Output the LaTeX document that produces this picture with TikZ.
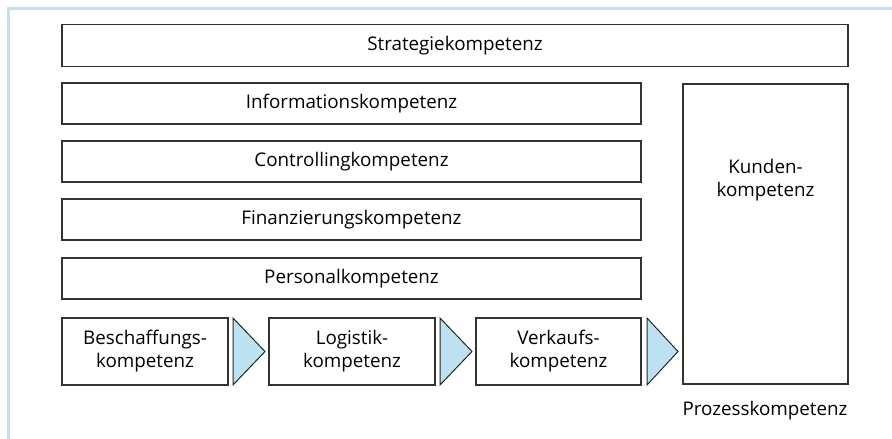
\documentclass[tikz,border=0pt]{standalone}
\usepackage{fontspec}
\setmainfont{Open Sans}
\definecolor{frameblue}{RGB}{190,226,242}
\definecolor{arrowblue}{RGB}{190,225,241}
\begin{document}
\begin{tikzpicture}[x=1pt,y=-1pt,
  kfont/.style={font=\fontsize{18.8}{23}\selectfont},
  kbox/.style={draw=black!80,line width=1.3pt,fill=white,inner sep=0pt,kfont,align=center},
  tri/.style={draw=black!85,line width=1pt,fill=arrowblue}]
\useasboundingbox (0,0) rectangle (892,439);
\fill[white] (0,0) rectangle (892,439);
\draw[frameblue,line width=3pt] (8,439) -- (8,8) -- (892,8);
\node[kbox,minimum width=786pt,minimum height=42pt] (strat) at (455,45.5) {Strategiekompetenz};
\node[kbox,minimum width=579pt,minimum height=41pt] (info) at (351.5,103.5) {Informationskompetenz};
\node[kbox,minimum width=579pt,minimum height=41pt] (contr) at (351.5,161.5) {Controllingkompetenz};
\node[kbox,minimum width=579pt,minimum height=41pt] (fin) at (351.5,219.5) {Finanzierungskompetenz};
\node[kbox,minimum width=579pt,minimum height=41pt] (pers) at (351.5,278.5) {Personalkompetenz};
\node[kbox,minimum width=165pt,minimum height=300pt] (kunden) at (765.5,234) {};
\node[kfont,align=center,inner sep=0pt] (kundentext) at (765.5,180) {Kunden-\\kompetenz};
\node[kbox,minimum width=166pt,minimum height=67pt] (besch) at (145,351.5) {Beschaffungs-\\kompetenz};
\node[kbox,minimum width=166pt,minimum height=67pt] (log) at (352,351.5) {Logistik-\\kompetenz};
\node[kbox,minimum width=165pt,minimum height=67pt] (verk) at (558.5,351.5) {Verkaufs-\\kompetenz};
\coordinate (t1a) at (233,318); \coordinate (t1b) at (265,351.5); \coordinate (t1c) at (233,385);
\coordinate (t2a) at (440,318); \coordinate (t2b) at (472,351.5); \coordinate (t2c) at (440,385);
\coordinate (t3a) at (647,318); \coordinate (t3b) at (678,351.5); \coordinate (t3c) at (647,385);
\draw[tri] (t1a) -- (t1b) -- (t1c) -- cycle;
\draw[tri] (t2a) -- (t2b) -- (t2c) -- cycle;
\draw[tri] (t3a) -- (t3b) -- (t3c) -- cycle;
\node[kfont,anchor=center] (proz) at (765,411) {Prozesskompetenz};
\end{tikzpicture}
\end{document}
